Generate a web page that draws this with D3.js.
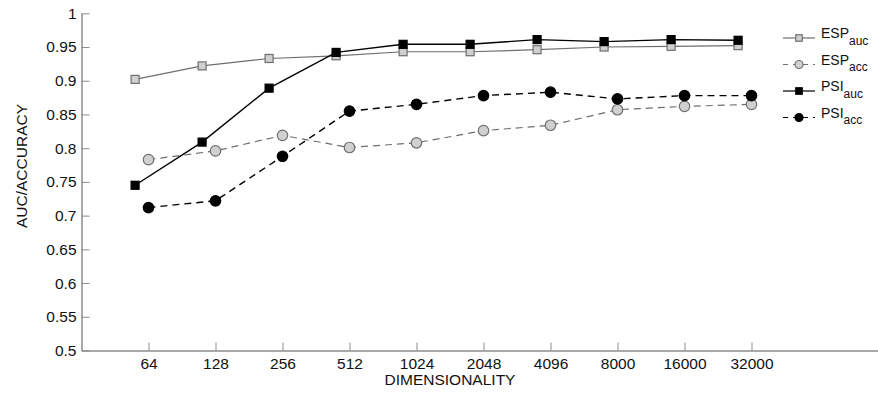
<!DOCTYPE html>
<html><head><meta charset="utf-8">
<script src="https://cdn.jsdelivr.net/npm/d3@7"></script>
<style>
body{margin:0;background:#fff;}
text{font-family:"Liberation Sans",Arial,Helvetica,sans-serif;fill:#111;}
</style></head>
<body><svg id="c" width="878" height="395"></svg>
<script>
const categories = ["64","128","256","512","1024","2048","4096","8000","16000","32000"];
const yTicks = [0.5,0.55,0.6,0.65,0.7,0.75,0.8,0.85,0.9,0.95,1];
const espAuc = [0.902,0.922,0.933,0.937,0.943,0.943,0.946,0.950,0.951,0.952];
const espAcc = [0.783,0.796,0.819,0.801,0.808,0.826,0.834,0.857,0.862,0.865];
const psiAuc = [0.745,0.809,0.889,0.942,0.954,0.954,0.961,0.958,0.961,0.960];
const psiAcc = [0.712,0.722,0.788,0.855,0.865,0.878,0.883,0.873,0.878,0.878];

const svg = d3.select("#c");
const x0 = 81.5, yTop = 13.3, yBot = 350.5;
const step = 67;
const xs = d3.scaleLinear().domain([-1, 10.9]).range([x0, x0 + step*11.9]);
const ys = d3.scaleLinear().domain([0.5, 1]).range([yBot, yTop]);
const axisColor = "#8c8c8c";
const FONT = "Liberation Sans, Arial, sans-serif";

// x axis
const xa = svg.append("g").attr("transform", `translate(0,${yBot})`)
  .call(d3.axisBottom(xs).tickValues(d3.range(categories.length)).tickFormat(i => categories[i]).tickSizeInner(-8).tickSizeOuter(0).tickPadding(7));
xa.select(".domain").attr("stroke", axisColor).attr("stroke-width", 1.5);
xa.selectAll(".tick line").attr("stroke", axisColor);
xa.selectAll("text").attr("font-size", 15.5).attr("font-family", FONT).attr("fill", "#111");

// y axis
const ya = svg.append("g").attr("transform", `translate(${x0},0)`)
  .call(d3.axisLeft(ys).tickValues(yTicks).tickFormat(d => d3.format("")(+d.toFixed(2))).tickSizeInner(-8).tickSizeOuter(0).tickPadding(6));
ya.select(".domain").attr("stroke", axisColor).attr("stroke-width", 1.5);
ya.selectAll(".tick line").attr("stroke", axisColor);
ya.selectAll(".tick text").attr("font-size", 15.5).attr("x", -5).attr("font-family", FONT).attr("fill", "#111");

// axis titles
svg.append("text").attr("x", xs(4.5)).attr("y", 385).attr("text-anchor", "middle").attr("font-size", 15.5).text("DIMENSIONALITY");
svg.append("text").attr("transform", "translate(26.5,166) rotate(-90)").attr("text-anchor", "middle").attr("font-size", 15.5).text("AUC/ACCURACY");

const series = [
  {name:"ESP", sub:"auc", vals:espAuc, off:-0.2, line:"#6e6e6e", dash:null, shape:"square", fill:"#d0d0d0", stroke:"#6e6e6e"},
  {name:"ESP", sub:"acc", vals:espAcc, off:0, line:"#6e6e6e", dash:"7,5", shape:"circle", fill:"#d0d0d0", stroke:"#6e6e6e"},
  {name:"PSI", sub:"auc", vals:psiAuc, off:-0.2, line:"#000", dash:null, shape:"square", fill:"#000", stroke:"#000"},
  {name:"PSI", sub:"acc", vals:psiAcc, off:0, line:"#000", dash:"7,5", shape:"circle", fill:"#000", stroke:"#000"}
];

function drawMarker(g, s, cx, cy, size) {
  if (s.shape === "square") {
    g.append("rect").attr("x", cx - size/2).attr("y", cy - size/2).attr("width", size).attr("height", size)
      .attr("fill", s.fill).attr("stroke", s.stroke).attr("stroke-width", 1.2);
  } else {
    g.append("circle").attr("cx", cx).attr("cy", cy).attr("r", size/2)
      .attr("fill", s.fill).attr("stroke", s.stroke).attr("stroke-width", 1.2);
  }
}

const line = d3.line();
series.forEach(s => {
  const pts = s.vals.map((v,i) => [xs(i + s.off), ys(v)]);
  svg.append("path").attr("d", line(pts)).attr("fill", "none").attr("stroke", s.line)
    .attr("stroke-width", s.line === "#000" ? 1.4 : 1.2).attr("stroke-dasharray", s.dash);
  const g = svg.append("g");
  pts.forEach(p => drawMarker(g, s, p[0], p[1], s.shape === "square" ? 8 : 10.5));
});

// legend
const legY = [38, 64.5, 91, 117.5];
series.forEach((s, k) => {
  const g = svg.append("g");
  const y = legY[k];
  g.append("line").attr("x1", 783).attr("x2", 815).attr("y1", y).attr("y2", y)
    .attr("stroke", s.line).attr("stroke-width", 1.2).attr("stroke-dasharray", s.dash ? "5,5" : null);
  drawMarker(g, s, 799, y, s.shape === "square" ? 6.5 : 8);
  const t = g.append("text").attr("x", 821).attr("y", y).attr("font-size", 14);
  t.append("tspan").text(s.name);
  t.append("tspan").attr("font-size", 12).attr("dy", 6.5).text(s.sub);
});
</script></body></html>
